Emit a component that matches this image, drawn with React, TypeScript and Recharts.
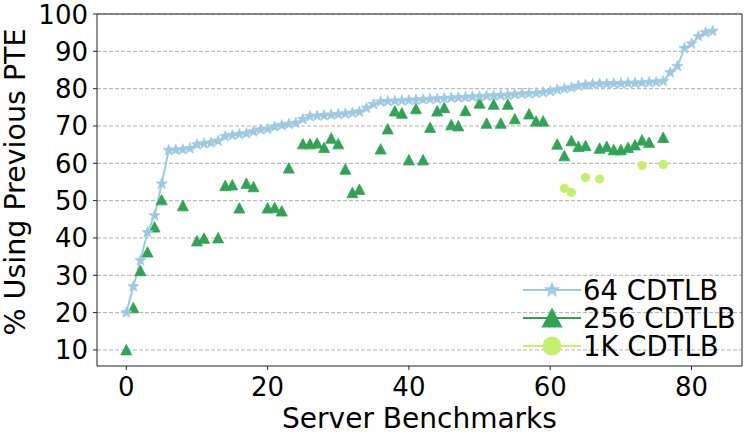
import React from "react";
import {
  ComposedChart,
  Line,
  XAxis,
  YAxis,
  CartesianGrid,
  ReferenceLine,
  Legend,
} from "recharts";

const FONT = "'DejaVu Sans', Verdana, sans-serif";

const C64 = "#9ecae1";
const C256 = "#31a354";
const C1K = "#c5f06e";

// % of accesses using the previous PTE, benchmarks sorted by the 64-entry result
const cdtlb64 = [
  20, 27, 34, 41.5, 46, 54.5, 63.5, 63.6, 63.7, 64,
  65, 65.3, 65.5, 66, 67.2, 67.5, 67.8, 68, 68.5, 69,
  69.2, 69.8, 70.2, 70.5, 70.8, 71.8, 72.6, 72.7, 72.8, 73,
  73.1, 73.3, 73.5, 73.8, 74.8, 75.8, 76.5, 76.6, 76.7, 76.8,
  76.9, 77, 77.1, 77.2, 77.3, 77.4, 77.5, 77.6, 77.7, 77.8,
  77.9, 78, 78.1, 78.2, 78.3, 78.5, 78.6, 78.7, 78.8, 79,
  79.3, 79.7, 80, 80.3, 80.7, 81, 81.2, 81.3, 81.3, 81.4,
  81.4, 81.5, 81.5, 81.6, 81.7, 81.8, 82, 84.3, 86, 90.8,
  92, 94, 95, 95.4,
];

const cdtlb256 = [
  10, 21.3, 31.2, 36.2, 42.9, 50.2, null, null, 48.6, null,
  39.2, 39.9, null, 40, 54, 54.2, 48, 54.6, 53.7, null,
  48, 48.1, 47.2, 58.7, null, 65.2, 65.2, 65.4, 64.2, 66.7,
  65.2, 58.4, 52.1, 53, null, null, 63.8, 69.2, 74, 73.4,
  60.9, 74.6, 60.9, 69.6, 74, 74.9, 70.3, 70, 74.1, null,
  76.1, 70.7, 75.8, 70.7, 75.8, 71.9, null, 73.2, 71.3, 71.3,
  null, 65.1, 62, 66, 64.5, 64.7, null, 64, 64.5, 63.6,
  63.6, 64.2, 64.9, 66.2, 65.6, null, 66.9, null, null, null,
  null, null, null, null,
];

const cdtlb1k = [
  ...Array(62).fill(null),
  53.3, 52.2, null, 56.2, null, 55.8, null, null, null, null,
  null, 59.4, null, null, 59.7, null, null, null, null, null,
  null, null,
];

const xTicks = [0, 20, 40, 60, 80];
const yTicks = [10, 20, 30, 40, 50, 60, 70, 80, 90, 100];

const X_MIN = -4.15;
const X_MAX = 87.15;
const Y_MIN = 5.7;
const Y_MAX = 100;

const data = cdtlb64.map((v, i) => ({
  bench: i,
  c64: v,
  c256: cdtlb256[i],
  c1k: cdtlb1k[i],
}));

function starPath(cx: number, cy: number, ro: number, ri: number) {
  let d = "";
  for (let k = 0; k < 10; k++) {
    const r = k % 2 === 0 ? ro : ri;
    const a = -Math.PI / 2 + (k * Math.PI) / 5;
    d += (k === 0 ? "M" : "L") + (cx + r * Math.cos(a)).toFixed(2) + "," + (cy + r * Math.sin(a)).toFixed(2);
  }
  return d + "Z";
}

function triPath(cx: number, cy: number, h: number) {
  return `M${cx},${cy - h}L${cx - h},${cy + h * 0.9}L${cx + h},${cy + h * 0.9}Z`;
}

const StarDot = (props: any) => {
  const { cx, cy, value, index } = props;
  if (value == null || cy == null) return <g key={`s${index}`} />;
  return <path key={`s${index}`} d={starPath(cx, cy, 5.8, 2.4)} fill={C64} stroke={C64} strokeWidth={0.8} />;
};

const TriDot = (props: any) => {
  const { cx, cy, value, index } = props;
  if (value == null || cy == null) return <g key={`t${index}`} />;
  return <path key={`t${index}`} d={triPath(cx, cy, 5.5)} fill={C256} stroke={C256} strokeWidth={0.8} />;
};

const CircleDot = (props: any) => {
  const { cx, cy, value, index } = props;
  if (value == null || cy == null) return <g key={`c${index}`} />;
  return <circle key={`c${index}`} cx={cx} cy={cy} r={4.6} fill={C1K} />;
};

const legendRows = [
  { label: "64 CDTLB", color: C64, kind: "star" },
  { label: "256 CDTLB", color: C256, kind: "tri" },
  { label: "1K CDTLB", color: C1K, kind: "circle" },
];

const renderLegend = () => (
  <svg width={230} height={92} style={{ overflow: "visible" }}>
    {legendRows.map((row, i) => {
      const y = 18 + i * 28;
      const mx = 34;
      return (
        <g key={row.label}>
          <line x1={5} x2={63} y1={y} y2={y} stroke={row.color} strokeWidth={2} />
          {row.kind === "star" && <path d={starPath(mx, y, 8.5, 3.5)} fill={row.color} />}
          {row.kind === "tri" && <path d={triPath(mx, y, 10.5)} fill={row.color} />}
          {row.kind === "circle" && <circle cx={mx} cy={y} r={9.5} fill={row.color} />}
          <text x={65} y={y + 10} fontSize={27.5} fontFamily={FONT} fill="#000">
            {row.label}
          </text>
        </g>
      );
    })}
  </svg>
);

export default function App() {
  return (
    <div style={{ position: "absolute", left: 0, top: 0, width: 747, height: 438, background: "#fff" }}>
      <ComposedChart
        width={747}
        height={438}
        data={data}
        margin={{ top: 14, right: 5, bottom: 0, left: 0 }}
      >
        <CartesianGrid
          vertical={false}
          stroke="#b0b0b0"
          strokeDasharray="4 2"
          horizontalValues={yTicks}
        />
        <XAxis
          dataKey="bench"
          type="number"
          domain={[X_MIN, X_MAX]}
          ticks={xTicks}
          allowDataOverflow
          height={72}
          tickSize={4}
          tickMargin={8}
          stroke="#222"
          tick={{ fontSize: 26, fontFamily: FONT, fill: "#000" }}
          label={{
            value: "Server Benchmarks",
            position: "insideBottom",
            offset: 10,
            fontSize: 28,
            fontFamily: FONT,
            fill: "#000",
          }}
        />
        <YAxis
          type="number"
          domain={[Y_MIN, Y_MAX]}
          ticks={yTicks}
          allowDataOverflow
          width={97}
          tickSize={4}
          tickMargin={5}
          stroke="#222"
          tick={{ fontSize: 26, fontFamily: FONT, fill: "#000" }}
          label={{
            content: () => (
              <text
                x={25}
                y={182}
                transform="rotate(-90 25 182)"
                textAnchor="middle"
                fontSize={28.5}
                fontFamily={FONT}
                fill="#000"
              >
                % Using Previous PTE
              </text>
            ),
          }}
        />
        <ReferenceLine y={Y_MAX} stroke="#222" strokeWidth={1} />
        <ReferenceLine x={X_MAX} stroke="#222" strokeWidth={1} />
        <Line
          dataKey="c256"
          stroke="none"
          dot={TriDot}
          activeDot={false}
          isAnimationActive={false}
        />
        <Line
          dataKey="c1k"
          stroke="none"
          dot={CircleDot}
          activeDot={false}
          isAnimationActive={false}
        />
        <Line
          dataKey="c64"
          stroke={C64}
          strokeWidth={2}
          dot={StarDot}
          activeDot={false}
          isAnimationActive={false}
        />
        <Legend
          layout="vertical"
          align="center"
          verticalAlign="middle"
          content={renderLegend}
          wrapperStyle={{ position: "absolute", left: 518, top: 272, width: 230, height: 92 }}
        />
      </ComposedChart>
    </div>
  );
}
